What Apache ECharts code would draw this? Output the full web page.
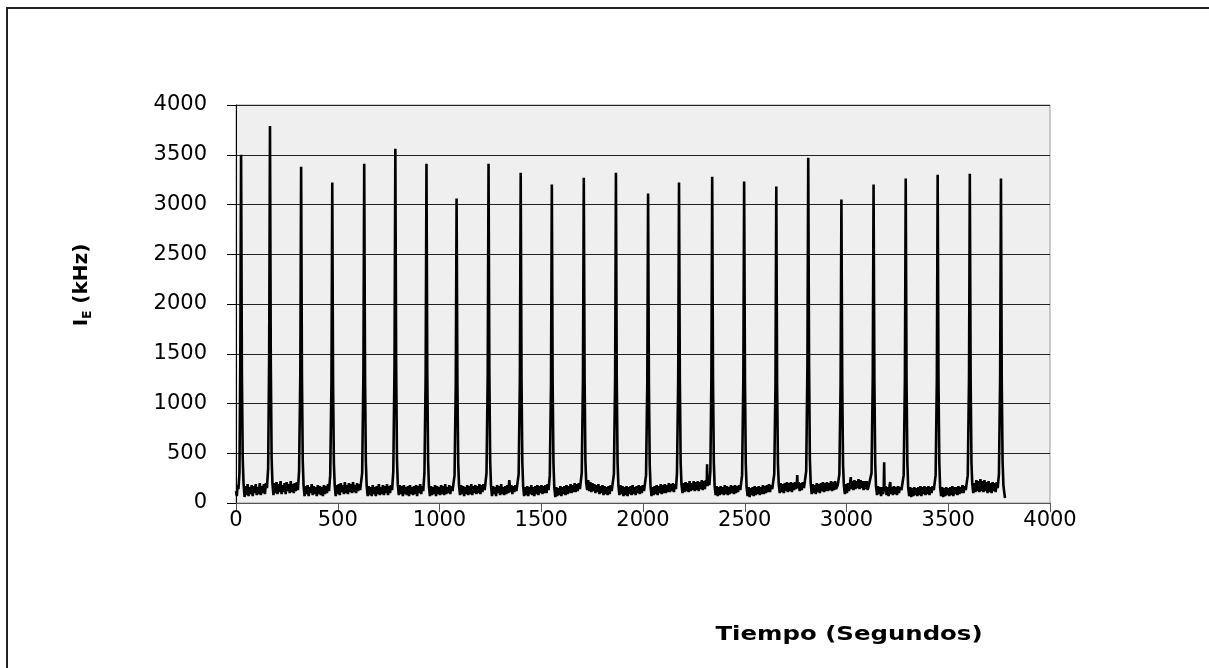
<!DOCTYPE html>
<html>
<head>
<meta charset="utf-8">
<script src="https://cdn.jsdelivr.net/npm/echarts@6/dist/echarts.min.js"></script>
<style>html,body{margin:0;padding:0;background:#fff;overflow:hidden;}#c{width:1209px;height:668px;}</style>
</head>
<body>
<div id="c"></div>
<script>
var xTicks = [0, 500, 1000, 1500, 2000, 2500, 3000, 3500, 4000];
var yTicks = [0, 500, 1000, 1500, 2000, 2500, 3000, 3500, 4000];
var xTitle = 'Tiempo (Segundos)';
var yTitleMain = 'I';
var yTitleSub = 'E';
var yTitleUnit = ' (kHz)';

// [time (s), I_E (kHz)]
var signal = [
[0,120],[4,70],[8,180],[12,140],[17,300],[21,1400],[25,3500],[29,1300],[33,450],[37,200],[42,60],[47,170],[52,80],[57,190],[62,70],[67,160],[72,90],[77,180],[82,70],[87,170],[92,100],[97,190],[102,80],[107,160],[112,90],[117,200],[122,80],[127,170],[132,100],[137,190],[142,90],[147,200],[152,150],[158,350],[163,1500],[167,3790],
[171,1400],[175,450],[179,200],[184,80],[189,200],[194,100],[199,210],[204,90],[209,190],[214,110],[219,220],[224,90],[229,180],[234,110],[239,200],[244,90],[249,210],[254,120],[259,190],[264,100],[269,220],[274,110],[279,190],[284,100],[289,200],[294,120],[299,210],[304,130],[310,320],[316,1300],[320,3380],
[324,1300],[328,420],[332,180],[337,70],[342,170],[347,90],[352,180],[357,70],[362,160],[367,100],[372,190],[377,80],[382,170],[387,90],[392,160],[397,70],[402,180],[407,90],[412,170],[417,80],[422,160],[427,70],[432,180],[437,90],[442,170],[447,100],[452,190],[457,120],[463,280],[469,1200],[473,3220],
[477,1200],[481,400],[485,180],[490,70],[495,180],[500,90],[505,190],[510,80],[515,200],[520,110],[525,180],[530,90],[535,210],[540,100],[545,180],[550,90],[555,200],[560,110],[565,190],[570,100],[575,210],[580,110],[585,180],[590,100],[595,200],[600,120],[605,190],[610,130],[620,300],[626,1300],[630,3410],
[634,1300],[638,420],[642,180],[647,70],[652,170],[657,80],[662,160],[667,70],[672,180],[677,90],[682,160],[687,70],[692,170],[697,90],[702,190],[707,80],[712,160],[717,90],[722,180],[727,80],[732,170],[737,100],[742,190],[747,80],[752,170],[757,100],[762,180],[767,130],[773,320],[779,1400],[783,3560],
[787,1400],[791,440],[795,190],[800,80],[805,180],[810,90],[815,170],[820,70],[825,180],[830,90],[835,160],[840,80],[845,170],[850,70],[855,180],[860,90],[865,160],[870,80],[875,170],[880,90],[885,180],[890,70],[895,170],[900,100],[905,190],[910,90],[915,170],[920,120],[926,300],[932,1300],[936,3410],
[940,1300],[944,420],[948,170],[953,70],[958,170],[963,80],[968,160],[973,90],[978,180],[983,70],[988,170],[993,90],[998,160],[1003,80],[1008,180],[1013,90],[1018,170],[1023,80],[1028,190],[1033,90],[1038,160],[1043,100],[1048,180],[1053,90],[1058,170],[1064,120],[1074,280],[1080,1200],[1084,3060],
[1088,1200],[1092,400],[1096,170],[1101,80],[1106,180],[1111,90],[1116,170],[1121,70],[1126,160],[1131,90],[1136,180],[1141,80],[1146,170],[1151,90],[1156,190],[1161,80],[1166,170],[1171,100],[1176,180],[1181,90],[1186,170],[1191,100],[1196,190],[1201,90],[1206,180],[1211,110],[1216,190],[1222,130],[1231,300],[1237,1300],[1241,3410],
[1245,1300],[1249,420],[1253,180],[1258,70],[1263,170],[1268,90],[1273,160],[1278,70],[1283,180],[1288,100],[1293,170],[1298,80],[1303,190],[1308,90],[1313,160],[1318,80],[1323,170],[1328,90],[1333,180],[1338,100],[1343,230],[1348,110],[1353,180],[1358,90],[1363,170],[1368,110],[1373,180],[1378,120],[1389,290],[1395,1250],[1399,3320],
[1403,1250],[1407,410],[1411,170],[1416,70],[1421,160],[1426,80],[1431,170],[1436,70],[1441,160],[1446,90],[1451,180],[1456,80],[1461,160],[1466,70],[1471,170],[1476,90],[1481,180],[1486,80],[1491,170],[1496,100],[1501,180],[1506,90],[1511,170],[1516,100],[1521,180],[1526,100],[1531,190],[1536,130],[1542,280],[1548,1200],[1552,3200],
[1556,1200],[1560,400],[1564,160],[1569,60],[1574,160],[1579,70],[1584,150],[1589,80],[1594,170],[1599,70],[1604,160],[1609,90],[1614,170],[1619,80],[1624,180],[1629,90],[1634,170],[1639,100],[1644,190],[1649,100],[1654,180],[1659,110],[1664,200],[1669,110],[1674,190],[1679,120],[1684,200],[1690,140],[1699,300],[1705,1250],[1709,3270],
[1713,1250],[1717,420],[1721,200],[1726,130],[1731,230],[1736,120],[1741,210],[1746,110],[1751,200],[1756,120],[1761,190],[1766,100],[1771,180],[1776,110],[1781,190],[1786,90],[1791,170],[1796,100],[1801,180],[1806,80],[1811,170],[1816,90],[1821,160],[1826,80],[1831,170],[1836,90],[1841,180],[1846,120],[1857,290],[1863,1250],[1867,3320],
[1871,1250],[1875,410],[1879,180],[1884,80],[1889,180],[1894,90],[1899,170],[1904,70],[1909,160],[1914,80],[1919,170],[1924,70],[1929,160],[1934,90],[1939,170],[1944,80],[1949,180],[1954,90],[1959,160],[1964,80],[1969,170],[1974,100],[1979,180],[1984,90],[1989,170],[1994,100],[1999,180],[2005,120],[2015,280],[2021,1200],[2025,3110],
[2029,1200],[2033,390],[2037,170],[2042,70],[2047,160],[2052,80],[2057,170],[2062,90],[2067,180],[2072,80],[2077,170],[2082,100],[2087,190],[2092,90],[2097,180],[2102,100],[2107,190],[2112,100],[2117,180],[2122,110],[2127,200],[2132,110],[2137,190],[2142,120],[2147,200],[2152,110],[2157,190],[2162,140],[2167,300],[2173,1250],[2177,3220],
[2181,1250],[2185,410],[2189,190],[2194,100],[2199,200],[2204,110],[2209,210],[2214,120],[2219,200],[2224,110],[2229,220],[2234,120],[2239,200],[2244,130],[2249,220],[2254,120],[2259,210],[2264,130],[2269,220],[2274,120],[2279,210],[2284,140],[2289,230],[2294,130],[2299,220],[2304,140],[2309,230],[2313,170],[2315,390],[2317,170],[2322,230],[2326,180],[2331,320],[2336,1250],[2340,3280],
[2344,1250],[2348,410],[2352,170],[2357,80],[2362,170],[2367,70],[2372,160],[2377,80],[2382,170],[2387,90],[2392,160],[2397,80],[2402,180],[2407,90],[2412,170],[2417,80],[2422,160],[2427,90],[2432,180],[2437,100],[2442,170],[2447,90],[2452,180],[2457,100],[2462,170],[2467,110],[2472,180],[2478,130],[2487,280],[2493,1250],[2497,3230],
[2501,1250],[2505,400],[2509,160],[2514,70],[2519,160],[2524,60],[2529,150],[2534,80],[2539,160],[2544,70],[2549,170],[2554,80],[2559,160],[2564,90],[2569,170],[2574,80],[2579,160],[2584,90],[2589,180],[2594,90],[2599,170],[2604,100],[2609,180],[2614,110],[2619,190],[2624,110],[2629,180],[2635,140],[2645,290],[2651,1200],[2655,3180],
[2659,1200],[2663,400],[2667,190],[2672,100],[2677,200],[2682,110],[2687,190],[2692,100],[2697,200],[2702,120],[2707,210],[2712,110],[2717,200],[2722,120],[2727,210],[2732,110],[2737,200],[2742,130],[2747,210],[2752,140],[2756,190],[2758,280],[2760,150],[2765,210],[2770,120],[2775,200],[2780,130],[2785,210],[2791,150],[2802,320],[2808,1400],[2812,3470],
[2816,1400],[2820,440],[2824,200],[2829,90],[2834,190],[2839,100],[2844,180],[2849,90],[2854,200],[2859,110],[2864,190],[2869,100],[2874,200],[2879,120],[2884,210],[2889,110],[2894,200],[2899,120],[2904,210],[2909,120],[2914,200],[2919,130],[2924,220],[2929,120],[2934,210],[2939,130],[2944,220],[2949,140],[2957,180],[2965,290],[2971,1200],[2975,3050],
[2979,1200],[2983,390],[2987,180],[2992,90],[2997,190],[3002,100],[3007,200],[3012,120],[3017,190],[3021,260],[3024,140],[3029,220],[3034,130],[3039,230],[3044,140],[3049,220],[3054,150],[3059,240],[3064,140],[3069,230],[3074,150],[3079,220],[3084,130],[3089,220],[3094,140],[3099,220],[3104,130],[3110,180],[3123,300],[3129,1250],[3133,3200],
[3137,1250],[3141,400],[3145,170],[3150,80],[3155,170],[3160,90],[3165,160],[3170,70],[3175,160],[3180,90],[3183,160],[3185,410],[3187,120],[3192,170],[3197,80],[3202,160],[3207,70],[3212,180],[3215,210],[3218,90],[3223,160],[3228,80],[3233,170],[3238,90],[3243,160],[3248,80],[3253,170],[3258,100],[3263,160],[3270,130],[3281,280],[3287,1250],[3291,3260],
[3295,1250],[3299,410],[3303,160],[3308,70],[3313,160],[3318,60],[3323,150],[3328,70],[3333,160],[3338,80],[3343,150],[3348,70],[3353,160],[3358,80],[3363,170],[3368,70],[3373,160],[3378,90],[3383,170],[3388,80],[3393,160],[3398,90],[3403,170],[3408,80],[3413,160],[3418,100],[3423,170],[3429,130],[3438,280],[3444,1250],[3448,3300],
[3452,1250],[3456,410],[3460,160],[3465,70],[3470,160],[3475,60],[3480,150],[3485,70],[3490,160],[3495,80],[3500,150],[3505,70],[3510,160],[3515,80],[3520,170],[3525,70],[3530,160],[3535,90],[3540,160],[3545,80],[3550,170],[3555,90],[3560,160],[3565,100],[3570,180],[3575,100],[3580,170],[3586,130],[3596,280],[3602,1250],[3606,3310],
[3610,1250],[3614,410],[3618,190],[3623,100],[3628,200],[3633,110],[3638,230],[3643,120],[3648,220],[3653,110],[3658,240],[3663,120],[3668,220],[3673,110],[3678,230],[3683,120],[3688,210],[3693,100],[3698,220],[3703,110],[3708,200],[3713,100],[3718,210],[3723,120],[3728,200],[3733,110],[3738,210],[3743,150],[3749,290],[3755,1250],[3759,3260],
[3763,1200],[3767,420],[3771,180],[3775,110],[3779,50]
];

var chart = echarts.init(document.getElementById('c'), null, {renderer: 'canvas'});
var labelFont = {fontFamily: 'DejaVu Sans', fontSize: 21, color: '#000', formatter: function (v) { return String(v); }};
chart.setOption({
  animation: false,
  backgroundColor: '#fff',
  grid: {left: 236, top: 105, width: 814, height: 398, show: true, backgroundColor: '#efefef', borderColor: '#999', borderWidth: 1},
  xAxis: {
    type: 'value', min: xTicks[0], max: xTicks[xTicks.length - 1], interval: 500,
    axisLine: {show: true, onZero: false, lineStyle: {color: '#555', width: 1}},
    axisTick: {show: true, length: 9, lineStyle: {color: '#555'}},
    splitLine: {show: false},
    axisLabel: Object.assign({margin: 7}, labelFont)
  },
  yAxis: {
    type: 'value', min: yTicks[0], max: yTicks[yTicks.length - 1], interval: 500,
    axisLine: {show: true, lineStyle: {color: '#000', width: 1}},
    axisTick: {show: true, length: 9, lineStyle: {color: '#000'}},
    splitLine: {show: true, lineStyle: {color: '#222', width: 1}},
    axisLabel: Object.assign({margin: 29}, labelFont)
  },
  series: [{
    type: 'line', data: signal, showSymbol: false, symbol: 'none',
    lineStyle: {color: '#000', width: 2.6}, z: 3
  }],
  graphic: [
    {type: 'polyline', shape: {points: [[7, 668], [7, 8], [1209, 8]]}, style: {fill: 'none', stroke: '#222', lineWidth: 2}, silent: true, z: -1},
    {type: 'text', x: 849, y: 635, scaleX: 1.22,
      style: {text: xTitle, fontFamily: 'DejaVu Sans', fontWeight: 'bold', fontSize: 20, fill: '#000', align: 'center', verticalAlign: 'middle'}},
    {type: 'text', x: 82, y: 285, rotation: Math.PI / 2,
      style: {
        text: '{a|' + yTitleMain + '}{b|' + yTitleSub + '}{a|' + yTitleUnit + '}',
        align: 'center', verticalAlign: 'middle',
        rich: {
          a: {fontFamily: 'DejaVu Sans', fontWeight: 'bold', fontSize: 20, fill: '#000'},
          b: {fontFamily: 'DejaVu Sans', fontWeight: 'bold', fontSize: 12, fill: '#000', padding: [12, 0, 0, 0]}
        }
      }}
  ]
});
</script>
</body>
</html>
